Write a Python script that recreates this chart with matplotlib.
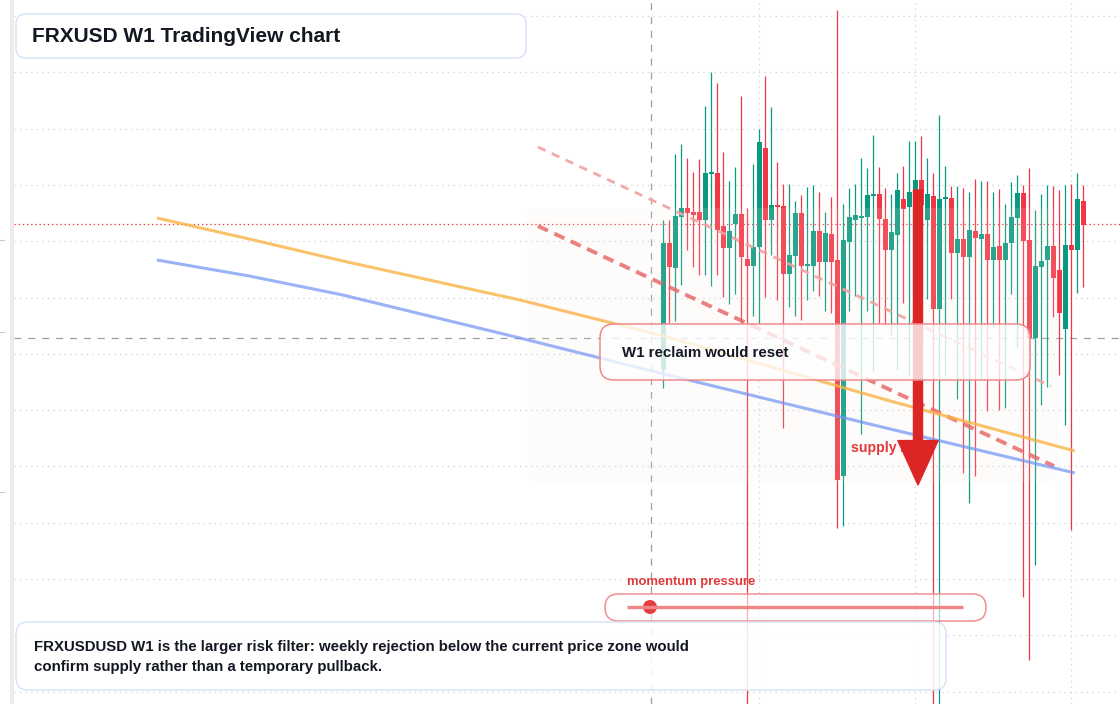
import numpy as np
import matplotlib
matplotlib.use("Agg")
import matplotlib.pyplot as plt
from matplotlib.patches import FancyBboxPatch, FancyArrowPatch, Circle, Rectangle

plt.rcParams['font.family'] = ['Liberation Sans', 'DejaVu Sans']
plt.rcParams['lines.scale_dashes'] = False

# ---------------- data (weekly candles, FRXUSD) ----------------
opens = [1.00630, 1.00757, 1.00732, 1.00783, 1.00792, 1.00788, 1.00788, 1.00780, 1.00826, 1.00827,
         1.00774, 1.00752, 1.00776, 1.00786, 1.00741, 1.00734, 1.00753, 1.00852, 1.00780, 1.00795,
         1.00794, 1.00726, 1.00744, 1.00787, 1.00734, 1.00734, 1.00769, 1.00738, 1.00766, 1.00740,
         1.00524, 1.00758, 1.00780, 1.00782, 1.00783, 1.00804, 1.00806, 1.00781, 1.00750, 1.00765,
         1.00801, 1.00793, 1.00807, 1.00820, 1.00780, 1.00804, 1.00691, 1.00801, 1.00802, 1.00747,
         1.00761, 1.00743, 1.00769, 1.00761, 1.00766, 1.00740, 1.00754, 1.00740, 1.00757, 1.00782,
         1.00807, 1.00760, 1.00662, 1.00733, 1.00740, 1.00754, 1.00730, 1.00671, 1.00755, 1.00750,
         1.00799]
highs = [1.00780, 1.00780, 1.00846, 1.00856, 1.00842, 1.00828, 1.00841, 1.00894, 1.00928, 1.00917,
         1.00848, 1.00819, 1.00833, 1.00904, 1.00792, 1.00836, 1.00871, 1.00924, 1.00893, 1.00838,
         1.00816, 1.00816, 1.00799, 1.00805, 1.00813, 1.00815, 1.00808, 1.00788, 1.00803, 1.00990,
         1.00796, 1.00812, 1.00816, 1.00842, 1.00832, 1.00865, 1.00833, 1.00812, 1.00806, 1.00827,
         1.00834, 1.00859, 1.00859, 1.00864, 1.00842, 1.00827, 1.00885, 1.00834, 1.00814, 1.00814,
         1.00812, 1.00808, 1.00821, 1.00819, 1.00819, 1.00808, 1.00811, 1.00796, 1.00818, 1.00825,
         1.00815, 1.00832, 1.00790, 1.00806, 1.00815, 1.00814, 1.00810, 1.00815, 1.00816, 1.00827,
         1.00815]
lows = [1.00612, 1.00677, 1.00679, 1.00715, 1.00750, 1.00733, 1.00725, 1.00725, 1.00714, 1.00725,
        1.00703, 1.00696, 1.00706, 1.00677, 1.00280, 1.00684, 1.00677, 1.00703, 1.00745, 1.00700,
        1.00572, 1.00693, 1.00684, 1.00680, 1.00700, 1.00709, 1.00704, 1.00689, 1.00687, 1.00472,
        1.00474, 1.00689, 1.00704, 1.00566, 1.00689, 1.00629, 1.00676, 1.00675, 1.00665, 1.00630,
        1.00697, 1.00624, 1.00700, 1.00740, 1.00701, 1.00280, 1.00280, 1.00624, 1.00701, 1.00601,
        1.00527, 1.00497, 1.00524, 1.00622, 1.00589, 1.00673, 1.00590, 1.00592, 1.00706, 1.00653,
        1.00403, 1.00340, 1.00435, 1.00595, 1.00613, 1.00683, 1.00625, 1.00575, 1.00470, 1.00707,
        1.00713]
closes = [1.00757, 1.00733, 1.00784, 1.00792, 1.00787, 1.00785, 1.00780, 1.00827, 1.00827, 1.00770,
          1.00752, 1.00769, 1.00786, 1.00743, 1.00734, 1.00753, 1.00858, 1.00780, 1.00795, 1.00793,
          1.00726, 1.00745, 1.00787, 1.00734, 1.00735, 1.00769, 1.00738, 1.00767, 1.00738, 1.00520,
          1.00760, 1.00783, 1.00785, 1.00783, 1.00805, 1.00805, 1.00781, 1.00750, 1.00768, 1.00810,
          1.00791, 1.00808, 1.00820, 1.00795, 1.00806, 1.00691, 1.00801, 1.00802, 1.00747, 1.00761,
          1.00743, 1.00770, 1.00762, 1.00766, 1.00740, 1.00753, 1.00740, 1.00757, 1.00783, 1.00807,
          1.00759, 1.00662, 1.00734, 1.00739, 1.00754, 1.00722, 1.00687, 1.00755, 1.00750, 1.00801,
          1.00775]

# moving averages (bar index, price)
ma_index = [-84.4, -69.0, -53.4, -39.0, -23.9, -0.55, 37.8, 68.6]
ma_fast = [1.00782, 1.00761, 1.00739, 1.00720, 1.00700, 1.00665, 1.00599, 1.00549]
ma_slow = [1.00740, 1.00724, 1.00705, 1.00684, 1.00662, 1.00627, 1.00571, 1.00527]

# descending supply trendlines
trend_upper_x = [-20.9, 64.6]
trend_upper_y = [1.00853, 1.00614]
trend_lower_x = [-20.9, 65.1]
trend_lower_y = [1.00774, 1.00534]

# supply zone
zone_x = [-22.7, 65.8]
zone_y = [1.00518, 1.00792]

last_price = 1.00776
cross_index = -2.05
cross_price = 1.00662
arrow_index = 42.45
arrow_from = 1.00810
arrow_to = 1.00515

title = "FRXUSD W1 TradingView chart"
note_lines = ["FRXUSDUSD W1 is the larger risk filter: weekly rejection below the current price zone would",
              "confirm supply rather than a temporary pullback."]
reclaim_label = "W1 reclaim would reset"
supply_label = "supply zone"
momentum_label = "momentum pressure"

# ---------------- figure ----------------
W, H = 1120, 704
fig = plt.figure(figsize=(W / 100, H / 100), dpi=100, facecolor='white')
ax = fig.add_axes([14 / W, 0, (W - 14) / W, 1])
ax.set_facecolor('white')
ax.set_xlim((14 - 663.3) / 6, (1120 - 663.3) / 6)
ax.set_ylim(1.00296, 1.01000)
for s in ax.spines.values():
    s.set_visible(False)
ax.set_yticks(np.arange(1.00984, 1.00296, -0.000563))
ax.set_xticks([16, 42, 68])
ax.tick_params(length=0, labelleft=False, labelbottom=False)
ax.grid(True, color='#d3d5da', linestyle=(0, (1, 3)), linewidth=0.9, zorder=0)
ax.set_axisbelow(True)

ov = fig.add_axes([0, 0, 1, 1], zorder=5)
ov.set_xlim(0, W)
ov.set_ylim(H, 0)
ov.axis('off')
ov.patch.set_alpha(0)

# crosshair and price line
ax.axvline(cross_index, color='#9a9ea6', linestyle=(0, (5, 5)), linewidth=0.9, zorder=1)
ax.axhline(cross_price, color='#9a9ea6', linestyle=(0, (5, 5)), linewidth=0.9, zorder=1)
ax.axhline(last_price, color='#f23645', linestyle=(0, (1, 2)), linewidth=0.9, zorder=1)

# candles
idx = np.arange(len(opens))
o = np.array(opens); h = np.array(highs); l = np.array(lows); c = np.array(closes)
up = c >= o
cols = np.where(up, '#089981', '#f23645')
ax.vlines(idx, l, h, colors=cols, linewidth=0.9, zorder=2)
body_bottom = np.minimum(o, c)
body_h = np.maximum(np.abs(c - o), 0.000016)
ax.bar(idx, body_h, bottom=body_bottom, width=0.78, color=cols, linewidth=0, zorder=2.5)

# zone
zone = FancyBboxPatch((zone_x[0], zone_y[0]), zone_x[1] - zone_x[0], zone_y[1] - zone_y[0],
                      boxstyle='round,pad=0,rounding_size=1.67', mutation_aspect=6e-5,
                      facecolor='#f6ece3', edgecolor='none', alpha=0.14, zorder=3)
ax.add_patch(zone)

# trendlines
ax.plot(trend_upper_x, trend_upper_y, color='#f2a0a0', linewidth=2.0, linestyle=(0, (6, 5)),
        alpha=0.9, zorder=3.5)
ax.plot(trend_lower_x, trend_lower_y, color='#ea6a6a', linewidth=2.8, linestyle=(0, (8, 5)),
        alpha=0.85, zorder=3.5)

# moving averages
ax.plot(ma_index, ma_fast, color='#f9b446', linewidth=2.2, alpha=0.8, zorder=4,
        solid_capstyle='butt')
ax.plot(ma_index, ma_slow, color='#6f93f3', linewidth=2.2, alpha=0.7, zorder=4,
        solid_capstyle='butt')

# supply text (below arrow)
ax.text(851, 448, supply_label, transform=ov.transData, fontsize=10.2, fontweight='bold',
        color='#e03a3a', va='center', ha='left', zorder=5)

# arrow
arr = FancyArrowPatch((arrow_index, arrow_from), (arrow_index, arrow_to),
                      arrowstyle='simple,head_length=3.2,head_width=2.9,tail_width=0.65',
                      mutation_scale=10, color='#dc2626', shrinkA=0, shrinkB=0, zorder=6)
ax.add_patch(arr)

# ---------------- overlay (pixel coordinates) ----------------
ov.add_patch(Rectangle((10, 0), 4, H, facecolor='#ececec', edgecolor='none'))
for ty in (240, 332, 492):
    ov.plot([0, 4], [ty, ty], color='#c9c9c9', linewidth=0.8)

def rbox(x0, y0, x1, y1, r, ec, fc, alpha=1.0, lw=1.0):
    p = FancyBboxPatch((x0, y0), x1 - x0, y1 - y0,
                       boxstyle='round,pad=0,rounding_size=%g' % r,
                       facecolor=fc, edgecolor='none', alpha=alpha)
    ov.add_patch(p)
    e = FancyBboxPatch((x0, y0), x1 - x0, y1 - y0,
                       boxstyle='round,pad=0,rounding_size=%g' % r,
                       facecolor='none', edgecolor=ec, linewidth=lw)
    ov.add_patch(e)

# title box
rbox(16, 14, 526, 58, 10, '#d5e2f6', 'white')
ov.text(32, 36, title, fontsize=15, fontweight='bold', color='#131722', va='center', ha='left')

# reclaim label box
rbox(600, 324, 1030, 380, 14, '#ee8a8a', 'white', alpha=0.78, lw=1.1)
ov.text(622, 353, reclaim_label, fontsize=10.8, fontweight='bold', color='#131722',
        va='center', ha='left')

# momentum pill
ov.text(627, 582, momentum_label, fontsize=9.4, fontweight='bold', color='#e03a3a',
        va='center', ha='left')
rbox(605, 594, 986, 621, 13.5, '#ef8f8f', 'white', alpha=0.6, lw=1.1)
ov.plot([627, 963], [607, 607], color='#ee8686', linewidth=2.4, solid_capstyle='butt')
ov.add_patch(Circle((650, 607), 7, facecolor='#e53e3e', edgecolor='none'))

# bottom note box
rbox(16, 622, 946, 690, 12, '#d5e2f6', 'white', alpha=0.88)
ov.text(34, 647, note_lines[0], fontsize=10.8, fontweight='bold', color='#131722',
        va='center', ha='left')
ov.text(34, 667, note_lines[1], fontsize=10.8, fontweight='bold', color='#131722',
        va='center', ha='left')

fig.savefig('out.png', dpi=100, facecolor='white')
